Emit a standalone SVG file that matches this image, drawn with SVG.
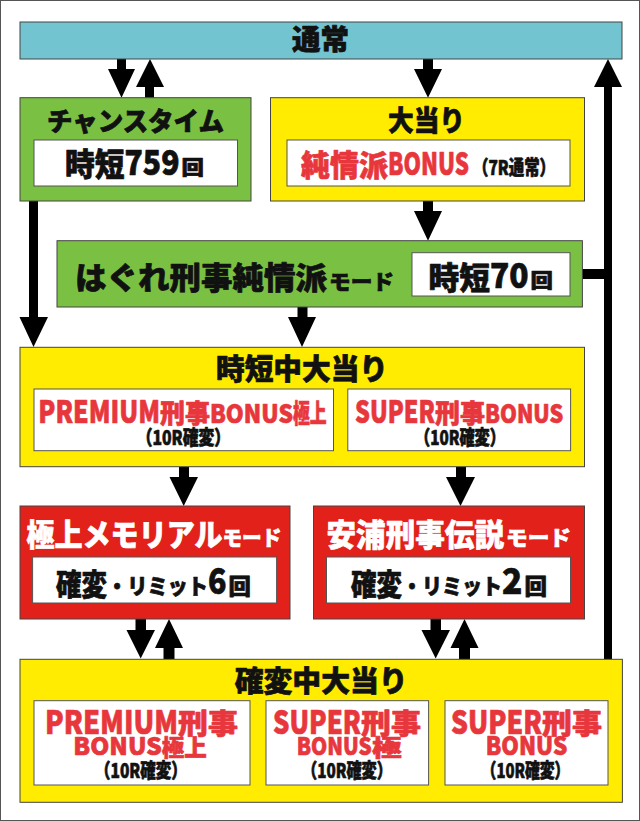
<svg xmlns="http://www.w3.org/2000/svg" width="640" height="821" viewBox="0 0 640 821">
<style>
text{font-family:'Noto Sans CJK JP','Noto Sans',sans-serif;font-weight:900;stroke-width:0.7;stroke-linejoin:round;}
.k{fill:#111;stroke:#111;}
.r{fill:#E8373C;stroke:#E8373C;}
.w{fill:#fff;stroke:#fff;}
.box{stroke:#444;stroke-width:1;}
.cyan{fill:#72C4D0;}
.green{fill:#7AC143;}
.yellow{fill:#FFEC00;}
.red{fill:#E3211B;}
.inner{fill:#fff;stroke:#555;stroke-width:1;}
.arr{fill:#000;}
</style>
<rect x="0.5" y="0.5" width="639" height="820" fill="#fff" stroke="#555" stroke-width="1"/>

<g id="connectors">
<path class="arr" d="M117,59 H126 V69 H135 L121.5,97.7 L108,69 H117 Z"/>
<path class="arr" d="M145,97.7 H154 V87 H164 L150,59 L136,87 H145 Z"/>
<path class="arr" d="M423,59 H433 V69 H442 L428,97.7 L414,69 H423 Z"/>
<path class="arr" d="M423,201 H433 V211 H442 L428,240.7 L414,211 H423 Z"/>
<path class="arr" d="M29,201 H38 V317 H48 L33.5,347 L19.5,317 H29 Z"/>
<path class="arr" d="M297.5,307 H307.5 V317 H316 L302,347 L288,317 H297.5 Z"/>
<path class="arr" d="M582,269 H604 V87 H594 L608,59 L622,87 H612 V659 H604 V279 H582 Z"/>
<path class="arr" d="M179,466.7 H189 V477 H198 L183.7,506 L169.5,477 H179 Z"/>
<path class="arr" d="M456,466.7 H466 V477 H475 L460.5,506 L446,477 H456 Z"/>
<path class="arr" d="M135.5,619 H146 V630 H155 L140.7,658.5 L126.5,630 H135.5 Z"/>
<path class="arr" d="M163.5,659 H174.5 V648 H183 L169,619 L155,648 H163.5 Z"/>
<path class="arr" d="M430.5,619 H441 V630 H450 L435.7,658.5 L421.5,630 H430.5 Z"/>
<path class="arr" d="M459,659 H470 V648 H478.5 L464.5,619 L450.5,648 H459 Z"/>
</g>

<g id="normal">
<rect class="box cyan" x="20" y="22" width="602" height="37"/>
<text class="k" x="292" y="50" font-size="28" textLength="57" lengthAdjust="spacingAndGlyphs">通常</text>
</g>

<g id="chance">
<rect class="box green" x="20" y="97.7" width="231" height="103.3"/>
<text class="k" x="47" y="131" font-size="26" textLength="177" lengthAdjust="spacingAndGlyphs">チャンスタイム</text>
<rect class="inner" x="34" y="140" width="203.5" height="46"/>
<text class="k" x="65" y="175.5" font-size="32" textLength="59.5" lengthAdjust="spacingAndGlyphs">時短</text>
<text class="k" x="124.5" y="175" font-size="35" textLength="55" lengthAdjust="spacingAndGlyphs">759</text>
<text class="k" x="181.6" y="175" font-size="20" textLength="22.4" lengthAdjust="spacingAndGlyphs">回</text>
</g>

<g id="bigwin">
<rect class="box yellow" x="270.5" y="97.7" width="314" height="103.3"/>
<text class="k" x="388" y="131" font-size="28" textLength="77" lengthAdjust="spacingAndGlyphs">大当り</text>
<rect class="inner" x="287" y="140" width="283" height="46"/>
<text class="r" x="301" y="176" font-size="30" textLength="87" lengthAdjust="spacingAndGlyphs">純情派</text>
<text class="r" x="388" y="175" font-size="31" textLength="81" lengthAdjust="spacingAndGlyphs">BONUS</text>
<text class="k" x="473" y="175" font-size="20" textLength="82" lengthAdjust="spacingAndGlyphs">（7R通常）</text>
</g>

<g id="hagure">
<rect class="box green" x="57" y="240.7" width="525.4" height="66.3"/>
<text class="k" x="75" y="289" font-size="31" textLength="252" lengthAdjust="spacingAndGlyphs">はぐれ刑事純情派</text>
<text class="k" x="329" y="289" font-size="21" textLength="65" lengthAdjust="spacingAndGlyphs">モード</text>
<rect class="inner" x="412" y="252.7" width="158" height="43.3"/>
<text class="k" x="428.6" y="288.5" font-size="31" textLength="61.4" lengthAdjust="spacingAndGlyphs">時短</text>
<text class="k" x="490" y="288" font-size="34" textLength="38.6" lengthAdjust="spacingAndGlyphs">70</text>
<text class="k" x="530.6" y="288" font-size="20" textLength="22.4" lengthAdjust="spacingAndGlyphs">回</text>
</g>

<g id="jitan-bigwin">
<rect class="box yellow" x="20" y="347.3" width="564.5" height="119.4"/>
<text class="k" x="216" y="380" font-size="29" textLength="172" lengthAdjust="spacingAndGlyphs">時短中大当り</text>
<rect class="inner" x="34" y="389" width="299.5" height="61.7"/>
<text class="r" x="38.3" y="423" font-size="31" textLength="121.7" lengthAdjust="spacingAndGlyphs">PREMIUM</text>
<text class="r" x="160" y="423" font-size="26" textLength="50" lengthAdjust="spacingAndGlyphs">刑事</text>
<text class="r" x="210" y="422.5" font-size="25" textLength="83" lengthAdjust="spacingAndGlyphs">BONUS</text>
<text class="r" x="293" y="423" font-size="26" textLength="33.7" lengthAdjust="spacingAndGlyphs">極上</text>
<text class="k" x="136.7" y="445" font-size="20" textLength="93.3" lengthAdjust="spacingAndGlyphs">（10R確変）</text>
<rect class="inner" x="347.8" y="389" width="222.8" height="61.7"/>
<text class="r" x="355" y="423" font-size="31" textLength="80" lengthAdjust="spacingAndGlyphs">SUPER</text>
<text class="r" x="435" y="423" font-size="26" textLength="50" lengthAdjust="spacingAndGlyphs">刑事</text>
<text class="r" x="485" y="422.5" font-size="25" textLength="78.3" lengthAdjust="spacingAndGlyphs">BONUS</text>
<text class="k" x="415" y="445" font-size="20" textLength="90" lengthAdjust="spacingAndGlyphs">（10R確変）</text>
</g>

<g id="gokujo">
<rect class="box red" x="20" y="506" width="270" height="113"/>
<text class="w" x="26.5" y="546" font-size="31" textLength="196" lengthAdjust="spacingAndGlyphs">極上メモリアル</text>
<text class="w" x="222.4" y="545" font-size="21" textLength="59" lengthAdjust="spacingAndGlyphs">モード</text>
<rect class="inner" x="32.6" y="557" width="244" height="46"/>
<text class="k" x="56" y="594.5" font-size="30" textLength="51" lengthAdjust="spacingAndGlyphs">確変</text>
<text class="k" x="107" y="594" font-size="22" textLength="101" lengthAdjust="spacingAndGlyphs">・リミット</text>
<text class="k" x="208" y="594" font-size="36" textLength="18.5" lengthAdjust="spacingAndGlyphs">6</text>
<text class="k" x="228.6" y="594" font-size="22" textLength="22.4" lengthAdjust="spacingAndGlyphs">回</text>
</g>

<g id="yasuura">
<rect class="box red" x="313.5" y="506" width="271" height="113"/>
<text class="w" x="326.5" y="546" font-size="31" textLength="177.5" lengthAdjust="spacingAndGlyphs">安浦刑事伝説</text>
<text class="w" x="506" y="545" font-size="21" textLength="65" lengthAdjust="spacingAndGlyphs">モード</text>
<rect class="inner" x="326.5" y="557" width="244" height="46"/>
<text class="k" x="351" y="594.5" font-size="30" textLength="51" lengthAdjust="spacingAndGlyphs">確変</text>
<text class="k" x="402" y="594" font-size="22" textLength="100" lengthAdjust="spacingAndGlyphs">・リミット</text>
<text class="k" x="502" y="594" font-size="36" textLength="20.4" lengthAdjust="spacingAndGlyphs">2</text>
<text class="k" x="524.5" y="594" font-size="22" textLength="22.5" lengthAdjust="spacingAndGlyphs">回</text>
</g>

<g id="kakuhen-bigwin">
<rect class="box yellow" x="20" y="659.3" width="602.4" height="143"/>
<text class="k" x="234.7" y="692" font-size="29" textLength="173" lengthAdjust="spacingAndGlyphs">確変中大当り</text>

<rect class="inner" x="34" y="700.7" width="216" height="84.3"/>
<text class="r" x="45" y="733.5" font-size="32" textLength="133" lengthAdjust="spacingAndGlyphs">PREMIUM</text>
<text class="r" x="178" y="734" font-size="28" textLength="60" lengthAdjust="spacingAndGlyphs">刑事</text>
<text class="r" x="73.3" y="754.5" font-size="24" textLength="88.4" lengthAdjust="spacingAndGlyphs">BONUS</text>
<text class="r" x="161.7" y="755.5" font-size="23" textLength="45" lengthAdjust="spacingAndGlyphs">極上</text>
<text class="k" x="95" y="778" font-size="20" textLength="91.7" lengthAdjust="spacingAndGlyphs">（10R確変）</text>

<rect class="inner" x="266" y="700.7" width="162.6" height="84.3"/>
<text class="r" x="273" y="733.5" font-size="32" textLength="88" lengthAdjust="spacingAndGlyphs">SUPER</text>
<text class="r" x="361" y="734" font-size="28" textLength="60" lengthAdjust="spacingAndGlyphs">刑事</text>
<text class="r" x="296.7" y="754.5" font-size="24" textLength="75" lengthAdjust="spacingAndGlyphs">BONUS</text>
<text class="r" x="372" y="755.5" font-size="23" textLength="29.7" lengthAdjust="spacingAndGlyphs">極</text>
<text class="k" x="302" y="778" font-size="20" textLength="90" lengthAdjust="spacingAndGlyphs">（10R確変）</text>

<rect class="inner" x="445" y="700.7" width="163" height="84.3"/>
<text class="r" x="451" y="733.5" font-size="32" textLength="91" lengthAdjust="spacingAndGlyphs">SUPER</text>
<text class="r" x="542" y="734" font-size="28" textLength="60" lengthAdjust="spacingAndGlyphs">刑事</text>
<text class="r" x="485.7" y="754.5" font-size="25" textLength="81.6" lengthAdjust="spacingAndGlyphs">BONUS</text>
<text class="k" x="481.6" y="778" font-size="20" textLength="87.8" lengthAdjust="spacingAndGlyphs">（10R確変）</text>
</g>
</svg>
